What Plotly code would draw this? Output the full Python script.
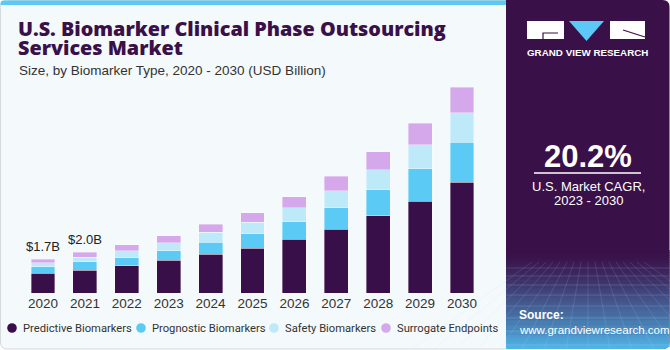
import plotly.graph_objects as go

years = ["2020", "2021", "2022", "2023", "2024", "2025", "2026", "2027", "2028", "2029", "2030"]
predictive = [0.99, 1.12, 1.34, 1.62, 1.92, 2.23, 2.66, 3.16, 3.82, 4.55, 5.50]
prognostic = [0.31, 0.43, 0.41, 0.48, 0.60, 0.71, 0.88, 1.07, 1.31, 1.62, 1.97]
safety = [0.20, 0.23, 0.35, 0.38, 0.48, 0.56, 0.68, 0.84, 0.99, 1.19, 1.47]
surrogate = [0.18, 0.25, 0.30, 0.36, 0.40, 0.48, 0.56, 0.71, 0.88, 1.06, 1.26]
series_names = ["Predictive Biomarkers", "Prognostic Biomarkers", "Safety Biomarkers", "Surrogate Endpoints"]
colors = ["#380f48", "#5bcbf5", "#bde9f9", "#d4a8ea"]
bar_labels = {"2020": "$1.7B", "2021": "$2.0B"}

W, H = 670, 350
L, R, T, B = 0, 100, 72, 57
pw = W - L - R
ph = H - T - B
CAT_PX = 41.9          # pixels per category
FIRST_CENTER = 43.0    # pixel x of first bar centre
x_lo = -(FIRST_CENTER - L) / CAT_PX
x_hi = x_lo + pw / CAT_PX


def px(x):
    return (x - L) / pw


def py(y):
    return (H - B - y) / ph


def rrect(x0, y0, x1, y1, r, corners="tl tr br bl"):
    c = corners.split()
    p = []
    if "tl" in c:
        p.append(f"M {px(x0)},{py(y0 + r)} Q {px(x0)},{py(y0)} {px(x0 + r)},{py(y0)}")
    else:
        p.append(f"M {px(x0)},{py(y0)}")
    if "tr" in c:
        p.append(f"L {px(x1 - r)},{py(y0)} Q {px(x1)},{py(y0)} {px(x1)},{py(y0 + r)}")
    else:
        p.append(f"L {px(x1)},{py(y0)}")
    if "br" in c:
        p.append(f"L {px(x1)},{py(y1 - r)} Q {px(x1)},{py(y1)} {px(x1 - r)},{py(y1)}")
    else:
        p.append(f"L {px(x1)},{py(y1)}")
    if "bl" in c:
        p.append(f"L {px(x0 + r)},{py(y1)} Q {px(x0)},{py(y1)} {px(x0)},{py(y1 - r)}")
    else:
        p.append(f"L {px(x0)},{py(y1)}")
    p.append("Z")
    return " ".join(p)


fig = go.Figure()
series = [predictive, prognostic, safety, surrogate]
for name, vals, col in zip(series_names, series, colors):
    fig.add_trace(go.Bar(
        x=years, y=vals, name=name,
        marker=dict(color=col, line=dict(color="rgba(255,255,255,0.45)", width=0.8)),
        showlegend=False, hoverinfo="skip"))

totals = [a + b + c + d for a, b, c, d in zip(predictive, prognostic, safety, surrogate)]
annotations = []
for i, (yr, tot) in enumerate(zip(years, totals)):
    if yr in bar_labels:
        annotations.append(dict(x=i, y=tot, xref="x", yref="y", text=bar_labels[yr], showarrow=False,
                                yshift=13, font=dict(size=13, color="#222222", family="Liberation Sans")))

shapes = []
shapes.append(dict(type="path", path=rrect(0.5, 0.5, 520, 349, 7, "tl bl"), xref="paper", yref="paper",
                   fillcolor="#f4f9fc", line=dict(color="#d5dadd", width=1), layer="below"))
shapes.append(dict(type="path", path=rrect(0.5, 0.5, 507, 5, 3, "tl"), xref="paper", yref="paper",
                   fillcolor="#5bc8f5", line=dict(width=0), layer="below"))
shapes.append(dict(type="path", path=rrect(506, 0, 669.5, 349, 7, "tr br"), xref="paper", yref="paper",
                   fillcolor="#3a1048", line=dict(width=0), layer="below"))
n = 40
y_start, y_end = 250, 349
c0 = (58, 16, 72)
c1 = (80, 180, 230)
for i in range(n):
    t = i / (n - 1)
    t2 = t ** 1.3
    col = tuple(int(c0[k] + (c1[k] - c0[k]) * t2) for k in range(3))
    ya = y_start + (y_end - y_start) * i / n
    yb = y_start + (y_end - y_start) * (i + 1) / n + 0.5
    if i == n - 1:
        shapes.append(dict(type="path", path=rrect(506, ya, 669.5, y_end, 6, "br"), xref="paper", yref="paper",
                           fillcolor=f"rgb{col}", line=dict(width=0), layer="below"))
    else:
        shapes.append(dict(type="rect", x0=px(506), x1=px(669.5), y0=py(ya), y1=py(yb), xref="paper", yref="paper",
                           fillcolor=f"rgb{col}", line=dict(width=0), layer="below"))
for yy in [268, 276, 285, 295, 306, 318, 331, 345]:
    shapes.append(dict(type="line", x0=px(506), x1=px(669.5), y0=py(yy), y1=py(yy), xref="paper", yref="paper",
                       line=dict(color="rgba(200,220,255,0.22)", width=0.8), layer="below"))
for k in range(-8, 9):
    xt = 588 + k * 7
    xb = 588 + k * 22
    shapes.append(dict(type="line", x0=px(xt), x1=px(xb), y0=py(262), y1=py(349), xref="paper", yref="paper",
                       line=dict(color="rgba(200,220,255,0.18)", width=0.8), layer="below"))
# logo
shapes.append(dict(type="rect", x0=px(527), x1=px(564), y0=py(21), y1=py(39), xref="paper", yref="paper",
                   fillcolor="white", line=dict(width=0), layer="below"))
shapes.append(dict(type="path", path=f"M {px(543)},{py(39)} L {px(543)},{py(33)} L {px(558)},{py(33)}",
                   xref="paper", yref="paper", line=dict(color="#3a1048", width=1.2), layer="below"))
shapes.append(dict(type="path", path=f"M {px(569)},{py(21)} L {px(604)},{py(21)} L {px(586.5)},{py(41)} Z",
                   xref="paper", yref="paper", fillcolor="#5bc8f5", line=dict(width=0), layer="below"))
shapes.append(dict(type="rect", x0=px(610), x1=px(645), y0=py(21), y1=py(39), xref="paper", yref="paper",
                   fillcolor="white", line=dict(width=0), layer="below"))
shapes.append(dict(type="path", path=f"M {px(623)},{py(30)} L {px(645)},{py(37)}",
                   xref="paper", yref="paper", line=dict(color="#3a1048", width=1.2), layer="below"))
shapes.append(dict(type="line", x0=px(534), x1=px(641), y0=py(173), y1=py(173), xref="paper", yref="paper",
                   line=dict(color="white", width=1.5)))


def ann(x, y, text, size, color="white", weight="normal", xanchor="left", family="Liberation Sans"):
    annotations.append(dict(x=px(x), y=py(y), xref="paper", yref="paper", text=text, showarrow=False,
                            xanchor=xanchor, yanchor="middle",
                            font=dict(size=size, color=color, family=family, weight=weight)))


ann(16, 28.5, "U.S. Biomarker Clinical Phase Outsourcing", 19.8, "#3a1048", 800, family="Open Sans")
ann(16, 47.5, "Services Market", 19.8, "#3a1048", 800, family="Open Sans")
ann(16.5, 70, "Size, by Biomarker Type, 2020 - 2030 (USD Billion)", 13.5, "#333333")
ann(587.5, 52, "GRAND VIEW RESEARCH", 9.8, "white", "bold", "center")
ann(588, 156, "20.2%", 31, "white", "bold", "center")
ann(588, 186, "U.S. Market CAGR,", 13, "white", "normal", "center")
ann(588, 201, "2023 - 2030", 13, "white", "normal", "center")
ann(517, 315, "Source:", 12, "white", "bold")
ann(517, 330, "www.grandviewresearch.com", 11.5, "white")

# legend row: circle swatch + label for each series
legend_marker_px = [12, 141, 274, 386]
LEG_Y = 328
LEG_R = 4.8
for name, col, mx in zip(series_names, colors, legend_marker_px):
    shapes.append(dict(type="circle", xref="paper", yref="paper",
                       x0=px(mx - LEG_R), x1=px(mx + LEG_R), y0=py(LEG_Y + LEG_R), y1=py(LEG_Y - LEG_R),
                       fillcolor=col, line=dict(width=0)))
    ann(mx + 9, LEG_Y, name, 11.2, "#333333", "normal", "left", family="Roboto")

fig.update_layout(
    width=W, height=H, margin=dict(l=L, r=R, t=T, b=B, autoexpand=False),
    paper_bgcolor="white", plot_bgcolor="rgba(0,0,0,0)",
    barmode="stack", bargap=0.43,
    shapes=shapes, annotations=annotations,
    showlegend=False,
    xaxis=dict(type="category", range=[x_lo, x_hi], showgrid=False, showline=False, zeroline=False, ticks="",
               tickfont=dict(size=13.5, color="#333333", family="Liberation Sans")),
    yaxis=dict(range=[0, ph / 20.17], visible=False, showgrid=False, zeroline=False),
)

fig.write_html("out.html")
